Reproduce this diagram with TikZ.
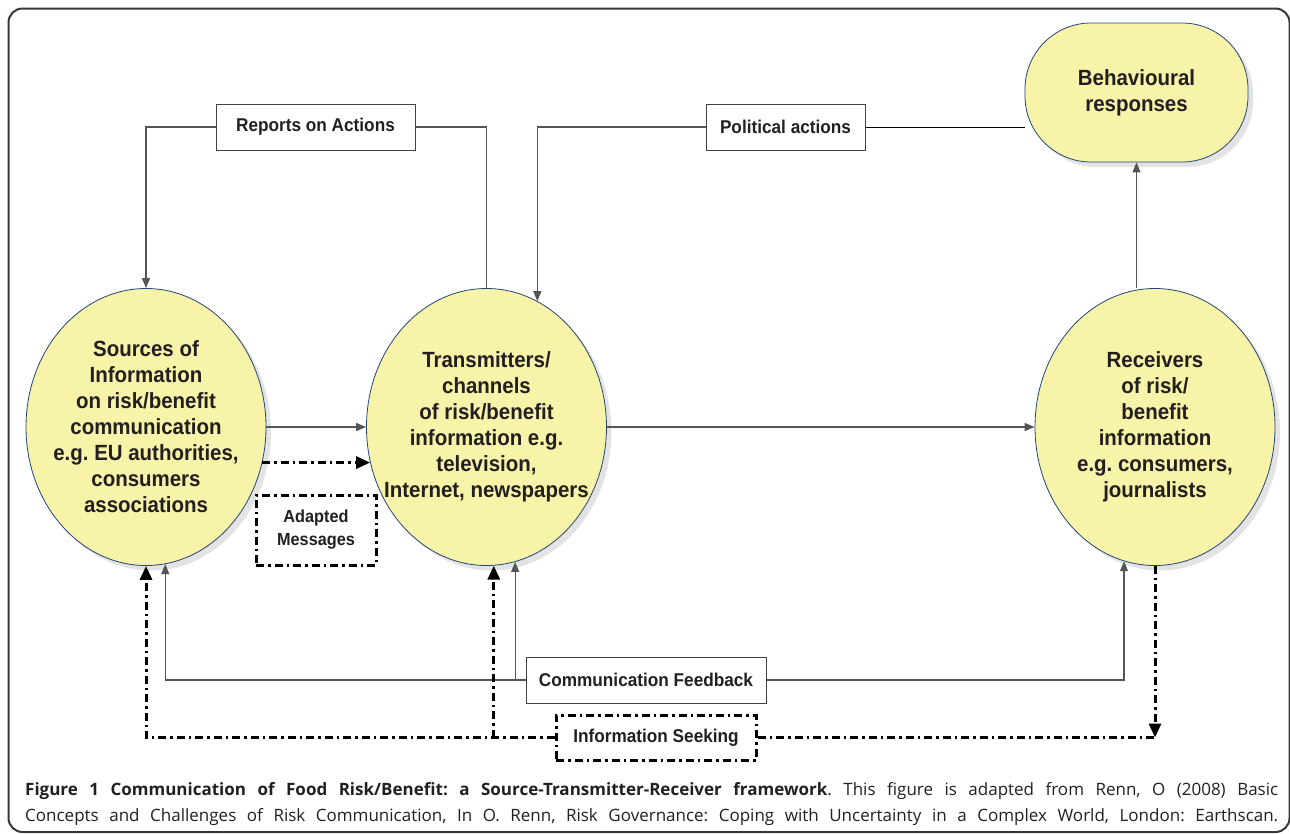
\documentclass[tikz,border=0pt]{standalone}
\usepackage{fontspec}
\newfontfamily\diagfont{Liberation Sans}[FakeStretch=0.93]
\newfontfamily\capfont{Open Sans}
\usetikzlibrary{arrows.meta,shapes.geometric,shadows,backgrounds,scopes}
\definecolor{bubble}{HTML}{F7F3A8}
\definecolor{rim}{HTML}{23467A}
\definecolor{wire}{HTML}{555555}
\definecolor{ink}{HTML}{231F20}
\frenchspacing
\tikzset{
  bubble/.style={ellipse, draw=rim, line width=0.8pt, fill=bubble, align=center,
    inner xsep=-40pt, inner ysep=-40pt, text=ink, font=\diagfont\bfseries\fontsize{22}{26}\selectfont,
    drop shadow={shadow xshift=5pt, shadow yshift=-5pt, fill=black!22}},
  tagbox/.style={rectangle, draw=ink!85, line width=1pt, fill=white, inner sep=0pt,
    align=center, text=ink, font=\diagfont\bfseries\fontsize{18.5}{23}\selectfont},
  wire/.style={draw=wire, line width=1.3pt},
  dashdot/.style={draw=black, line width=3pt, dash pattern=on 8pt off 4pt on 2.5pt off 4pt},
  thin tip/.style={-{Triangle[length=10pt,width=8pt]}},
  heavy tip/.style={-{Triangle[length=14pt,width=12pt]}},
  capline/.style={anchor=base west, inner sep=0pt, text=ink, font=\capfont\fontsize{17}{26}\selectfont},
}
\begin{document}
\begin{tikzpicture}[x=1pt, y=-1pt]
  \useasboundingbox (0,0) rectangle (1290,833);
  \draw[line width=2pt, draw=ink!90, rounded corners=14pt] (8.5,8.5) rectangle (1289.5,832);

  { [minimum width=240pt, minimum height=277pt]
    \node[bubble] (src) at (146,427) {Sources of\\Information\\on risk/benefit\\communication\\e.g. EU authorities,\\consumers\\associations};
    \node[bubble] (trm) at (486.5,427) {Transmitters/\\channels\\of risk/benefit\\information e.g.\\television,\\Internet, newspapers};
    \node[bubble] (rcv) at (1155,427) {Receivers\\of risk/\\benefit\\information\\e.g. consumers,\\journalists};
  }
  \node[bubble, rectangle, inner sep=0pt, rounded corners=66pt, minimum width=223pt, minimum height=139pt] (beh) at (1136.5,92.5) {Behavioural\\responses};

  { [minimum height=46pt]
    \node[tagbox, minimum width=199pt] (rep) at (315.5,127) {Reports on Actions};
    \node[tagbox, minimum width=159pt] (pol) at (785.5,127) {Political actions};
    \node[tagbox, minimum width=240pt] (cfb) at (646,680) {Communication Feedback};
    \node[tagbox, dashdot, minimum width=200pt, minimum height=45pt] (ise) at (656,737.5) {Information Seeking};
    \node[tagbox, dashdot, minimum width=120pt, minimum height=70pt, font=\diagfont\bfseries\fontsize{17.5}{23}\selectfont] (ada) at (316,530) {Adapted\\Messages};
  }

  \coordinate (seekT) at (ise.west -| trm.-87);
  \coordinate (seekR) at (ise.east -| rcv.south);

  { [wire]
    \draw (trm.north) |- (rep.east);
    \draw[thin tip] (rep.west) -| (src.north);
    \draw[thin tip] (pol.west) -| (trm.68);
    \begin{scope}[on background layer]
      \draw (pol.east) -- (pol.east -| beh.west);
    \end{scope}
    \draw[thin tip] (src.east) -- (trm.west);
    \draw[thin tip] (trm.east) -- (rcv.west);
    \draw[thin tip] (beh.south |- rcv.north) -- (beh.south);
    \draw[thin tip] (cfb.west) -| (src.-82);
    \draw[thin tip] (cfb.west) -| (trm.-78);
    \draw[thin tip] (cfb.east) -| (rcv.-103);
  }

  { [dashdot, heavy tip]
    \draw (src.-17) -- (trm.197);
    \draw (ise.west) -| (src.south);
    \draw (seekT) -- (trm.-87);
    \draw (rcv.south) -- (seekR);
    \draw[-] (ise.east) -- (seekR);
  }

  \node[capline] (cap1) at (25,795) {\makebox[1253pt][s]{\textbf{Figure 1 Communication of Food Risk/Benefit: a Source-Transmitter-Receiver framework}. This figure is adapted from Renn, O (2008) Basic}};
  \node[capline] (cap2) at (25,821) {\makebox[1253pt][s]{Concepts and Challenges of Risk Communication, In O. Renn, Risk Governance: Coping with Uncertainty in a Complex World, London: Earthscan.}};
\end{tikzpicture}
\end{document}
